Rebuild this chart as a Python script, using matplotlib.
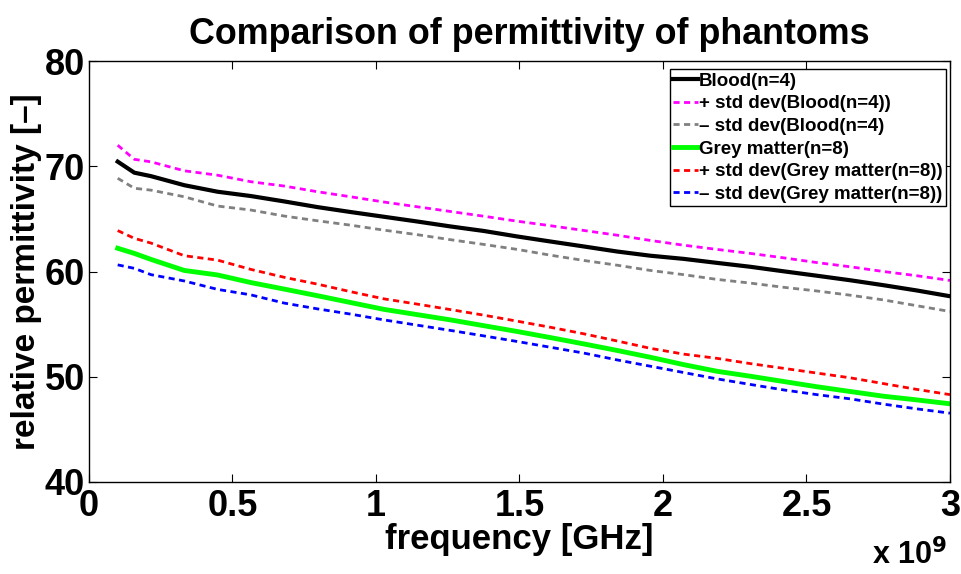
import matplotlib
matplotlib.use("Agg")
import matplotlib.pyplot as plt
from matplotlib.ticker import FuncFormatter, FixedLocator

plt.rcParams['font.family'] = ['Liberation Sans', 'DejaVu Sans']
plt.rcParams['font.weight'] = 'bold'

freq_ghz = [0.1, 0.158, 0.216, 0.332, 0.448, 0.564, 0.68, 0.796, 0.912, 1.028,
            1.144, 1.26, 1.376, 1.492, 1.608, 1.724, 1.84, 1.956, 2.072, 2.188,
            2.304, 2.42, 2.536, 2.652, 2.768, 2.884, 3.0]

blood = [70.44, 69.39, 69.06, 68.2, 67.58, 67.17, 66.66, 66.12, 65.65, 65.2,
         64.75, 64.28, 63.85, 63.33, 62.85, 62.38, 61.9, 61.5, 61.2, 60.82,
         60.45, 60.02, 59.6, 59.17, 58.7, 58.2, 57.65]
blood_plus = [72.0, 70.66, 70.42, 69.57, 69.15, 68.53, 68.12, 67.58, 67.1, 66.6,
              66.15, 65.7, 65.25, 64.78, 64.35, 63.9, 63.45, 62.95, 62.5, 62.1,
              61.72, 61.3, 60.85, 60.45, 60.0, 59.6, 59.15]
blood_minus = [68.86, 67.91, 67.73, 67.1, 66.22, 65.84, 65.27, 64.82, 64.4, 63.93,
               63.5, 63.02, 62.57, 62.1, 61.55, 61.05, 60.6, 60.1, 59.7, 59.25,
               58.9, 58.5, 58.15, 57.75, 57.3, 56.75, 56.2]
grey = [62.21, 61.72, 61.15, 60.1, 59.67, 58.95, 58.33, 57.7, 57.05, 56.4,
        55.9, 55.4, 54.85, 54.3, 53.72, 53.12, 52.5, 51.85, 51.15, 50.52,
        50.05, 49.55, 49.05, 48.6, 48.15, 47.8, 47.43]
grey_plus = [63.89, 63.15, 62.7, 61.5, 61.08, 60.2, 59.45, 58.8, 58.08, 57.4,
             56.9, 56.38, 55.85, 55.28, 54.7, 54.08, 53.4, 52.7, 52.15, 51.75,
             51.25, 50.8, 50.35, 49.9, 49.35, 48.8, 48.3]
grey_minus = [60.63, 60.3, 59.7, 59.1, 58.3, 57.78, 57.0, 56.45, 55.95, 55.4,
              54.9, 54.4, 53.88, 53.35, 52.8, 52.25, 51.6, 51.0, 50.4, 49.8,
              49.27, 48.75, 48.3, 47.9, 47.4, 46.95, 46.54]

labels = ['Blood(n=4)', '+ std dev(Blood(n=4))', '\u2013 std dev(Blood(n=4)',
          'Grey matter(n=8)', '+ std dev(Grey matter(n=8))', '\u2013 std dev(Grey matter(n=8))']
xticks_ghz = [0, 0.5, 1, 1.5, 2, 2.5, 3]
yticks = [40, 50, 60, 70, 80]

freq_hz = [f * 1e9 for f in freq_ghz]

fig = plt.figure(figsize=(9.62, 5.74), dpi=100)
ax = fig.add_axes([0.0925, 0.1603, 0.895, 0.7334])

dash = (0, (2.2, 1.6))
ax.plot(freq_hz, blood, color='black', lw=3.0, label=labels[0])
ax.plot(freq_hz, blood_plus, color=(1, 0, 1), lw=2.0, ls=dash, label=labels[1])
ax.plot(freq_hz, blood_minus, color=(0.5, 0.5, 0.5), lw=2.0, ls=dash, label=labels[2])
ax.plot(freq_hz, grey, color=(0, 1, 0), lw=3.5, label=labels[3])
ax.plot(freq_hz, grey_plus, color=(1, 0, 0), lw=2.0, ls=dash, label=labels[4])
ax.plot(freq_hz, grey_minus, color=(0, 0, 1), lw=2.0, ls=dash, label=labels[5])

ax.set_xlim(0, 3e9)
ax.set_ylim(40, 80)
ax.xaxis.set_major_locator(FixedLocator([t * 1e9 for t in xticks_ghz]))
ax.xaxis.set_major_formatter(FuncFormatter(lambda v, p: '%g' % (v / 1e9)))
ax.yaxis.set_major_locator(FixedLocator(yticks))
ax.tick_params(direction='in', length=6, width=0.8, top=True, right=True,
               labelsize=26)
ax.tick_params(axis='x', pad=5)
ax.tick_params(axis='y', pad=3)
for lab in ax.get_xticklabels() + ax.get_yticklabels():
    lab.set_fontweight('bold')
for s in ax.spines.values():
    s.set_linewidth(1.0)

ax.set_title('Comparison of permittivity of phantoms', fontsize=25.8,
             fontweight='bold', pad=12, x=0.512)
ax.set_xlabel('frequency [GHz]', fontsize=25, fontweight='bold', labelpad=-1)
ax.set_ylabel('relative permittivity [\u2013]', fontsize=24, fontweight='bold', labelpad=2)

fig.text(0.985, 0.005, 'x 10$^{\\mathbf{9}}$', ha='right', va='bottom',
         fontsize=22, fontweight='bold')

leg = ax.legend(loc='upper right', bbox_to_anchor=(1 - 4 / 861, 1 - 8 / 421),
                fontsize=13.5, handlelength=1.3,
                handletextpad=0.05, labelspacing=0.29, borderpad=0.2,
                borderaxespad=0.0, fancybox=False, framealpha=1,
                edgecolor='black')
leg.get_frame().set_linewidth(1.0)
for t in leg.get_texts():
    t.set_fontweight('bold')

fig.savefig('out.png', dpi=100)
